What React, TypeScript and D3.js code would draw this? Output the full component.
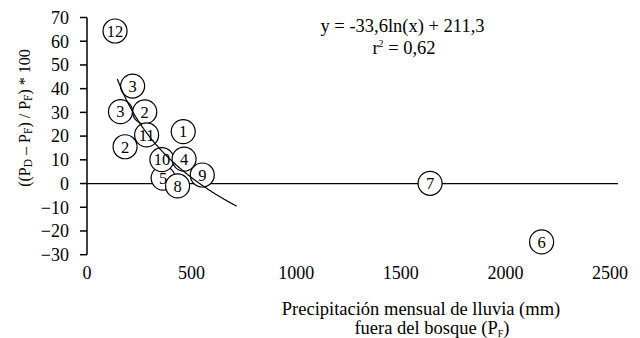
import React from "react";
import * as d3 from "d3";

const labels = ["5", "12", "3", "3", "2", "11", "1", "2", "10", "4", "9", "8", "7", "6"];
const xValues = [364, 134, 218, 160, 276, 285, 460, 182, 358, 464, 551, 433, 1640, 2173];
const yValues = [2.3, 64.3, 41.1, 30.3, 30.2, 20.5, 21.9, 15.5, 10.1, 10.3, 3.6, -1.0, 0.1, -24.6];
const xTicks = [0, 500, 1000, 1500, 2000, 2500];
const yTicks = [-30, -20, -10, 0, 10, 20, 30, 40, 50, 60, 70];
const trendA = -33.6;
const trendB = 211.3;
const trendRange = [145, 715];

const FONT = "Liberation Serif";

export default function App() {
  const W = 640, H = 338;
  const x = d3.scaleLinear().domain([0, 2500]).range([87, 610]);
  const y = d3.scaleLinear().domain([-30, 70]).range([254.7, 17.5]);
  const trendPts = d3.range(trendRange[0], trendRange[1] + 1, 5).map((v) => [v, trendA * Math.log(v) + trendB] as [number, number]);
  const line = d3.line<[number, number]>().x((d) => x(d[0])).y((d) => y(d[1]));
  const f = (s: number) => ({ fontFamily: FONT, fontSize: s } as React.CSSProperties);
  return (
    <svg width={W} height={H} style={{ position: "absolute", left: 0, top: 0, background: "#fff" }}>
      <rect width={W} height={H} fill="#fff" />
      <line x1={x(0)} x2={x(0)} y1={y(70)} y2={y(-30)} stroke="#000" strokeWidth={1.5} />
      {yTicks.map((t) => (
        <g key={t}>
          <line x1={x(0) - 7} x2={x(0)} y1={y(t)} y2={y(t)} stroke="#000" strokeWidth={1.5} />
          <text x={69} y={y(t)} dy="0.35em" textAnchor="end" style={f(18)}>
            {t < 0 ? "\u2212" + Math.abs(t) : t}
          </text>
        </g>
      ))}
      <line x1={x(0)} x2={618} y1={y(0)} y2={y(0)} stroke="#000" strokeWidth={1.3} />
      {xTicks.map((t) => (
        <text key={t} x={x(t)} y={279} textAnchor="middle" style={f(18)}>{t}</text>
      ))}
      {labels.map((l, i) => (
        <g key={i}>
          <circle cx={x(xValues[i])} cy={y(yValues[i])} r={12} fill="#fff" stroke="#000" strokeWidth={1.2} />
          <text x={x(xValues[i])} y={y(yValues[i])} dy="0.35em" textAnchor="middle" style={f(16.5)}>{l}</text>
        </g>
      ))}
      <path d={line(trendPts) || ""} fill="none" stroke="#000" strokeWidth={1.2} />
      <text x={402.5} y={32} textAnchor="middle" style={f(18.5)}>y = -33,6ln(x) + 211,3</text>
      <text x={404} y={54} textAnchor="middle" style={f(18.5)}>
        r<tspan dy={-7} fontSize={10}>2</tspan><tspan dy={7}> = 0,62</tspan>
      </text>
      <text x={421} y={315} textAnchor="middle" style={f(18.5)}>Precipitación mensual de lluvia (mm)</text>
      <text x={432} y={334} textAnchor="middle" style={f(18.5)}>
        fuera del bosque (P<tspan dy={3} fontSize={10}>F</tspan><tspan dy={-3}>)</tspan>
      </text>
      <text transform="translate(30,118) rotate(-90)" textAnchor="middle" style={f(16)}>
        ((P<tspan dy={2} fontSize={11.5}>D</tspan><tspan dy={-2}> – P</tspan><tspan dy={2} fontSize={11.5}>F</tspan><tspan dy={-2}>) / P</tspan><tspan dy={2} fontSize={11.5}>F</tspan><tspan dy={-2}>) * 100</tspan>
      </text>
    </svg>
  );
}
